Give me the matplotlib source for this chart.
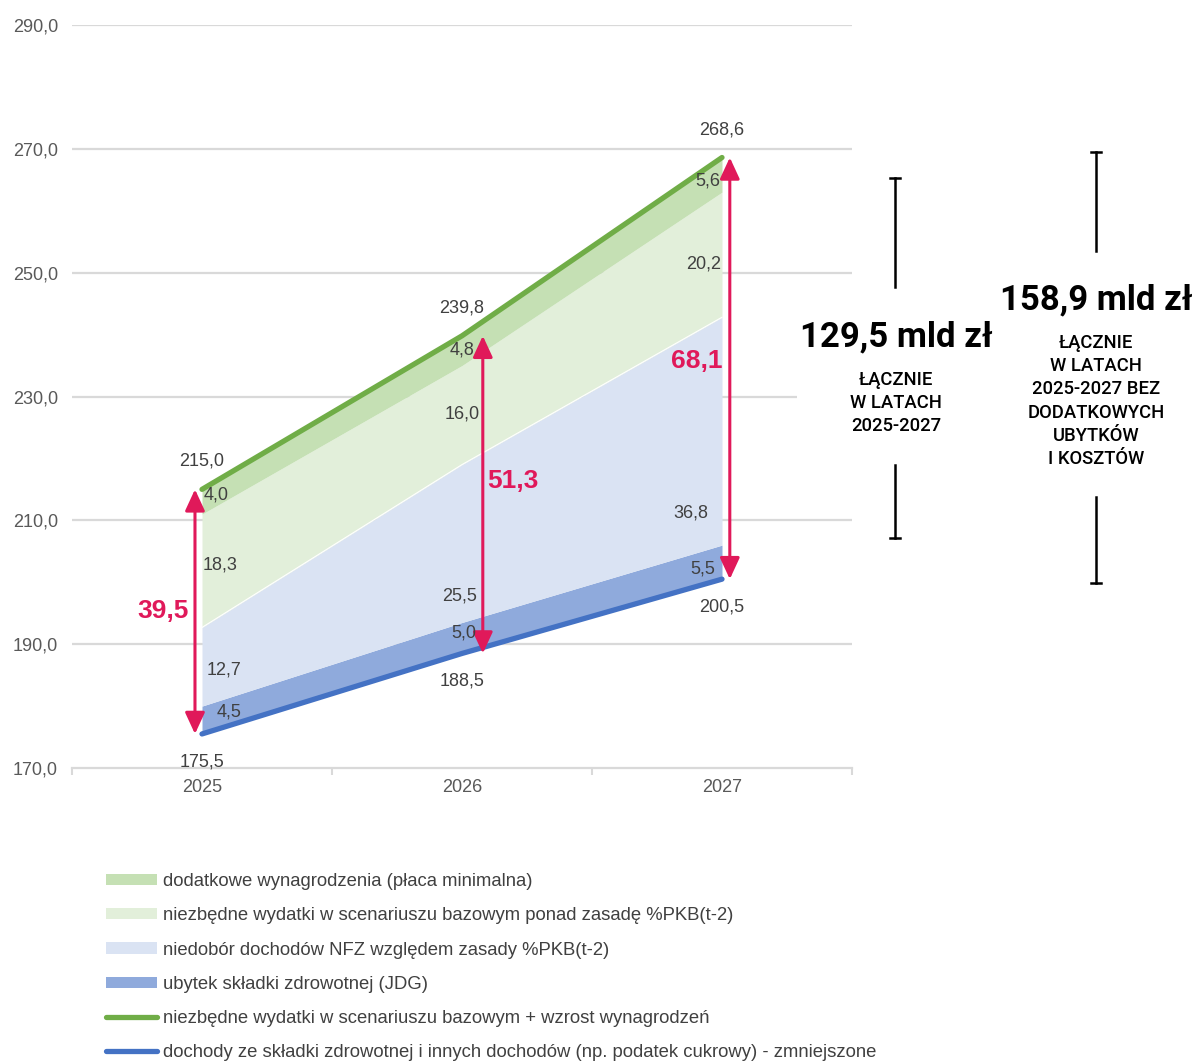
import matplotlib
matplotlib.use("Agg")
import matplotlib.pyplot as plt
from matplotlib.patches import FancyArrowPatch, Patch
from matplotlib.lines import Line2D
import numpy as np

# ---- data -------------------------------------------------------------
years = ["2025", "2026", "2027"]
income = [175.5, 188.5, 200.5]            # dochody ze składki zdrowotnej ... - zmniejszone
jdg_loss = [4.5, 5.0, 5.5]                # ubytek składki zdrowotnej (JDG)
nfz_gap = [12.7, 25.5, 36.8]              # niedobór dochodów NFZ względem zasady %PKB(t-2)
base_extra = [18.3, 16.0, 20.2]           # niezbędne wydatki w scenariuszu bazowym ponad zasadę
wages_extra = [4.0, 4.8, 5.6]             # dodatkowe wynagrodzenia (płaca minimalna)
needed_total = [215.0, 239.8, 268.6]      # niezbędne wydatki + wzrost wynagrodzeń
gap_totals = [39.5, 51.3, 68.1]
y_ticks = [170, 190, 210, 230, 250, 270, 290]
sum_main = "129,5 mld zł"
sum_main_note = "ŁĄCZNIE\nW LATACH\n2025-2027"
sum_alt = "158,9 mld zł"
sum_alt_note = "ŁĄCZNIE\nW LATACH\n2025-2027 BEZ\nDODATKOWYCH\nUBYTKÓW\nI KOSZTÓW"
legend_labels = [
    "dodatkowe wynagrodzenia (płaca minimalna)",
    "niezbędne wydatki w scenariuszu bazowym ponad zasadę %PKB(t-2)",
    "niedobór dochodów NFZ względem zasady %PKB(t-2)",
    "ubytek składki zdrowotnej (JDG)",
    "niezbędne wydatki w scenariuszu bazowym + wzrost wynagrodzeń",
    "dochody ze składki zdrowotnej i innych dochodów (np. podatek cukrowy) - zmniejszone",
]

# ---- style ------------------------------------------------------------
C_WAGES = "#c5e0b4"
C_BASE = "#e2efda"
C_GAP = "#dae3f3"
C_JDG = "#8faadc"
C_GREEN = "#70ad47"
C_BLUE = "#4472c4"
C_RED = "#e0195a"
C_TXT = "#404040"
C_GRID = "#d9d9d9"
FONT = "Liberation Sans"
FS = 13

W, H = 1194, 1061
fig = plt.figure(figsize=(W / 100, H / 100), dpi=100)
ax = fig.add_axes([72 / W, 1 - 768 / H, 780 / W, 743 / H])

x = np.arange(len(years)) + 0.5
inc = np.array(income)
l1 = inc + np.array(jdg_loss)
l2 = l1 + np.array(nfz_gap)
l3 = l2 + np.array(base_extra)
l4 = l3 + np.array(wages_extra)

# gridlines (the 230 line stops short of the annotation column)
for v in y_ticks[1:]:
    xe = 2.79 if v == 230 else 3.0
    ax.plot([0, xe], [v, v], color=C_GRID, lw=1.6, zorder=0, solid_capstyle="butt")

# stacked areas
ax.fill_between(x, inc, l1, color=C_JDG, lw=0, zorder=1)
ax.fill_between(x, l1, l2, color=C_GAP, lw=0, zorder=1)
ax.fill_between(x, l2, l3, color=C_BASE, lw=0, zorder=1)
ax.plot(x, l2, color="white", lw=0.8, zorder=1.5)
ax.fill_between(x, l3, l4, color=C_WAGES, lw=0, zorder=1)

# boundary lines
ax.plot(x, needed_total, color=C_GREEN, lw=3.8, solid_capstyle="round", zorder=3)
ax.plot(x, income, color=C_BLUE, lw=3.8, solid_capstyle="round", zorder=3)

# gap arrows
arrow_dx = [-0.027, 0.08, 0.03]
for i in range(3):
    xa = x[i] + arrow_dx[i]
    arr = FancyArrowPatch((xa, income[i]), (xa, needed_total[i]),
                          arrowstyle="<|-|>,head_length=13,head_width=6",
                          mutation_scale=1, color=C_RED, lw=2.2,
                          shrinkA=0, shrinkB=0, zorder=4)
    ax.add_patch(arr)

# value labels (pixel offsets from the middle of each band)
def lab(txt, xi, yv, dx, dy, **kw):
    ax.annotate(txt, xy=(x[xi], yv), xytext=(dx, dy), textcoords="offset pixels",
                ha="center", va="center", fontsize=FS, color=C_TXT,
                family=FONT, zorder=5, **kw)

def fmt(v):
    return f"{v:.1f}".replace(".", ",")

seg_offsets = [
    # (jdg, gap, base, wages)
    [(27, 8), (22, -3), (18, 6), (14, 7)],
    [(2, 5), (-2, -52), (0, 1), (0, 1)],
    [(-19, -7), (-31, -82), (-18, -9), (-14, -6)],
]
for i in range(3):
    bands = [(inc[i], l1[i], jdg_loss[i]), (l1[i], l2[i], nfz_gap[i]),
             (l2[i], l3[i], base_extra[i]), (l3[i], l4[i], wages_extra[i])]
    for (lo, hi, val), (dx, dy) in zip(bands, seg_offsets[i]):
        lab(fmt(val), i, (lo + hi) / 2, dx, dy)
    lab(fmt(needed_total[i]), i, needed_total[i], 0, 28)
    lab(fmt(income[i]), i, income[i], 0, -28)

gap_offsets = [(-39, 1), (51, 14), (-25, 7)]
for i in range(3):
    dx, dy = gap_offsets[i]
    ax.annotate(fmt(gap_totals[i]), xy=(x[i], (income[i] + needed_total[i]) / 2),
                xytext=(dx, dy), textcoords="offset pixels", ha="center", va="center",
                fontsize=19, fontweight="bold", color=C_RED, family=FONT, zorder=5)

# axes
ax.set_xlim(0, 3)
ax.set_ylim(170, 290)
ax.set_yticks(y_ticks)
ax.set_yticklabels([fmt(v) for v in y_ticks], family=FONT, fontsize=FS, color="#595959")
ax.set_xticks(x)
ax.set_xticklabels(years, family=FONT, fontsize=FS, color="#595959")
ax.set_xticks([0, 1, 2, 3], minor=True)
ax.tick_params(axis="y", length=0, pad=10)
ax.tick_params(axis="x", which="major", length=0, pad=8)
ax.tick_params(axis="x", which="minor", length=5, width=1.5, color=C_GRID)
for s in ["left", "right", "top"]:
    ax.spines[s].set_visible(False)
ax.spines["bottom"].set_color(C_GRID)
ax.spines["bottom"].set_linewidth(1.6)
ax.set_facecolor("none")

# totals column on the right
def fx(px):
    return px / W

def fy(py):
    return 1 - py / H

def bracket(xp, top, top_end, bot_start, bot):
    for a, b in [(top, top_end), (bot_start, bot)]:
        fig.add_artist(Line2D([fx(xp), fx(xp)], [fy(a), fy(b)], color="black", lw=1.8))
    for yy in (top, bot):
        fig.add_artist(Line2D([fx(xp - 5), fx(xp + 5)], [fy(yy), fy(yy)], color="black", lw=1.8))

bracket(895, 178, 287, 465, 538)
bracket(1096, 152, 251, 497, 583)

fig.text(fx(896), fy(337), sum_main, ha="center", va="center", family="Roboto",
         fontweight="bold", fontsize=25, color="black")
fig.text(fx(896), fy(403), sum_main_note, ha="center", va="center", family="Roboto",
         fontweight="medium", fontsize=13.3, color="black", linespacing=1.36)
fig.text(fx(1096), fy(300), sum_alt, ha="center", va="center", family="Roboto",
         fontweight="bold", fontsize=25, color="black")
fig.text(fx(1096), fy(401), sum_alt_note, ha="center", va="center", family="Roboto",
         fontweight="medium", fontsize=13.3, color="black", linespacing=1.36)

# legend
handles = [
    Patch(facecolor=C_WAGES, edgecolor="none"),
    Patch(facecolor=C_BASE, edgecolor="none"),
    Patch(facecolor=C_GAP, edgecolor="none"),
    Patch(facecolor=C_JDG, edgecolor="none"),
    Line2D([], [], color=C_GREEN, lw=3.8, solid_capstyle="round"),
    Line2D([], [], color=C_BLUE, lw=3.8, solid_capstyle="round"),
]
leg = fig.legend(handles, legend_labels, loc="upper left",
                 bbox_to_anchor=(fx(106), fy(873)), frameon=False,
                 prop={"family": FONT, "size": 13.3}, labelcolor=C_TXT,
                 handlelength=2.76, handleheight=0.55, handletextpad=0.32,
                 labelspacing=0.935, borderaxespad=0, borderpad=0)

fig.savefig("out.png", dpi=100)
